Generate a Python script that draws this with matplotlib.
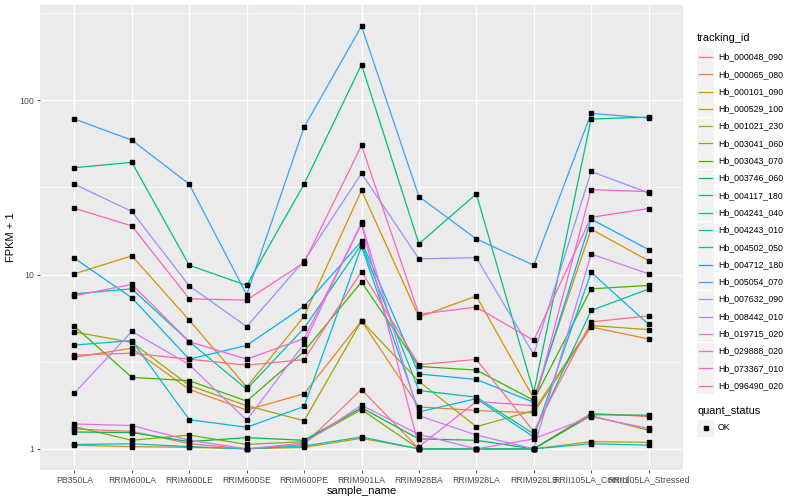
import numpy as np
import matplotlib
matplotlib.use("Agg")
import matplotlib.pyplot as plt
from matplotlib.ticker import FixedLocator, NullFormatter
from matplotlib.patches import Rectangle
from matplotlib.lines import Line2D

plt.rcParams['font.family'] = ['Liberation Sans', 'DejaVu Sans']

samples = ["PB350LA", "RRIM600LA", "RRIM600LE", "RRIM600SE", "RRIM600PE",
           "RRIM901LA", "RRIM928BA", "RRIM928LA", "RRIM928LB",
           "RRII105LA_Control", "RRII105LA_Stressed"]

tracking_ids = ["Hb_000048_090", "Hb_000065_080", "Hb_000101_090", "Hb_000529_100",
                "Hb_001021_230", "Hb_003041_060", "Hb_003043_070", "Hb_003746_060",
                "Hb_004117_180", "Hb_004241_040", "Hb_004243_010", "Hb_004502_050",
                "Hb_004712_180", "Hb_005054_070", "Hb_007632_090", "Hb_008442_010",
                "Hb_019715_020", "Hb_029888_020", "Hb_073367_010", "Hb_096490_020"]

# ggplot default hue palette for 20 groups
colors = ["#F8766D", "#EA8331", "#D89000", "#C09B00", "#A3A500", "#7CAE00", "#39B600",
          "#00BB4E", "#00BF7D", "#00C1A3", "#00BFC4", "#00BAE0", "#00B0F6", "#35A2FF",
          "#9590FF", "#C77CFF", "#E76BF3", "#FA62DB", "#FF62BC", "#FF6C91"]

# FPKM + 1 per sample, one list per gene
hb_000048_090 = [1.30, 1.26, 1.07, 1.00, 1.06, 2.19, 1.00, 1.00, 1.00, 1.60, 1.53]
hb_000065_080 = [3.35, 3.78, 2.19, 1.67, 2.07, 5.42, 1.74, 1.66, 1.61, 5.00, 4.27]
hb_000101_090 = [10.1, 12.8, 5.47, 2.26, 5.76, 30.4, 5.71, 7.52, 1.95, 18.2, 12.0]
hb_000529_100 = [1.05, 1.03, 1.02, 1.00, 1.02, 1.15, 1.00, 1.00, 1.00, 1.10, 1.09]
hb_001021_230 = [4.68, 4.08, 2.31, 1.77, 1.45, 5.42, 2.44, 1.34, 1.66, 5.10, 4.83]
hb_003041_060 = [1.34, 1.12, 1.20, 1.06, 1.10, 1.68, 1.00, 1.00, 1.00, 1.55, 1.28]
hb_003043_070 = [5.05, 2.57, 2.46, 1.88, 3.62, 9.06, 2.97, 2.83, 1.90, 8.28, 8.66]
hb_003746_060 = [1.25, 1.24, 1.10, 1.16, 1.12, 1.72, 1.14, 1.12, 1.00, 1.57, 1.56]
hb_004117_180 = [41.0, 44.0, 11.3, 8.66, 33.0, 160., 15.0, 29.0, 2.11, 78.0, 80.0]
hb_004241_040 = [7.75, 8.28, 4.12, 2.20, 4.92, 14.9, 2.16, 1.98, 1.22, 6.22, 8.25]
hb_004243_010 = [1.06, 1.07, 1.03, 1.00, 1.04, 1.17, 1.00, 1.00, 1.00, 1.07, 1.05]
hb_004502_050 = [3.94, 4.18, 1.47, 1.33, 1.75, 14.5, 1.63, 1.94, 1.17, 10.3, 5.18]
hb_004712_180 = [12.4, 7.35, 3.27, 3.92, 6.58, 15.5, 2.69, 2.50, 1.85, 20.8, 13.9]
hb_005054_070 = [78.0, 59.0, 33.0, 7.65, 70.0, 266., 28.0, 16.0, 11.3, 84.0, 79.0]
hb_007632_090 = [33.0, 23.0, 8.60, 5.03, 12.0, 38.0, 12.3, 12.5, 3.48, 39.0, 29.4]
hb_008442_010 = [2.09, 4.72, 3.04, 1.46, 4.01, 19.9, 1.55, 1.20, 1.00, 13.1, 10.1]
hb_019715_020 = [1.39, 1.36, 1.12, 1.00, 1.08, 1.78, 1.21, 1.00, 1.14, 1.53, 1.31]
hb_029888_020 = [7.55, 8.78, 4.12, 3.27, 4.29, 19.5, 1.03, 1.87, 1.77, 30.7, 29.9]
hb_073367_010 = [24.0, 19.0, 7.26, 7.13, 11.7, 55.0, 5.92, 6.50, 4.19, 21.3, 23.9]
hb_096490_020 = [3.45, 3.54, 3.27, 3.02, 3.25, 10.4, 3.04, 3.26, 1.26, 5.35, 5.79]

series = [hb_000048_090, hb_000065_080, hb_000101_090, hb_000529_100, hb_001021_230,
          hb_003041_060, hb_003043_070, hb_003746_060, hb_004117_180, hb_004241_040,
          hb_004243_010, hb_004502_050, hb_004712_180, hb_005054_070, hb_007632_090,
          hb_008442_010, hb_019715_020, hb_029888_020, hb_073367_010, hb_096490_020]

W, H = 800, 500
fig = plt.figure(figsize=(8, 5), dpi=100)
ax = fig.add_axes([40 / W, 1 - 470 / H, (683 - 40) / W, (470 - 5) / H])
ax.set_facecolor("#EBEBEB")

x = np.arange(len(samples))
for vals, c in zip(series, colors):
    ax.plot(x, vals, color=c, lw=0.9, zorder=3)
for vals in series:
    ax.plot(x, vals, ls="none", marker="s", ms=2.8, color="black", zorder=4)

ax.set_yscale("log")
allv = np.log10(np.concatenate([np.array(s) for s in series]))
lo, hi = allv.min(), allv.max()
pad = 0.05 * (hi - lo)
ax.set_ylim(10 ** (lo - pad), 10 ** (hi + pad))
ax.set_xlim(-0.6, len(samples) - 0.4)

ax.yaxis.set_major_locator(FixedLocator([1, 10, 100]))
ax.set_yticklabels(["1", "10", "100"])
ax.yaxis.set_minor_locator(FixedLocator([10 ** 0.5, 10 ** 1.5, 10 ** 2.5]))
ax.yaxis.set_minor_formatter(NullFormatter())
ax.set_xticks(x)
ax.set_xticklabels(samples)

ax.grid(True, which="major", color="white", lw=1.0, zorder=0)
ax.grid(True, which="minor", axis="y", color="white", lw=0.5, zorder=0)
ax.set_axisbelow(True)
for s in ax.spines.values():
    s.set_visible(False)
ax.tick_params(axis="both", which="major", length=2.5, width=0.6, color="#333333",
               labelsize=6.3, labelcolor="#4D4D4D", pad=1.5)
ax.tick_params(axis="y", which="minor", length=0)

ax.set_xlabel("sample_name", fontsize=8, labelpad=1)
ax.set_ylabel("FPKM + 1", fontsize=8, labelpad=3)

# legend drawn ggplot style
def fx(px):
    return px / W

def fy(py):
    return 1 - py / H

fig.text(fx(697), fy(38), "tracking_id", fontsize=7.9, va="center", ha="left")
for i, (name, c) in enumerate(zip(tracking_ids, colors)):
    yc = 57 + 17.3 * i
    fig.patches.append(Rectangle((fx(697), fy(yc + 8.5)), 17 / W, 17 / H,
                                 transform=fig.transFigure, facecolor="#F2F2F2",
                                 edgecolor="none"))
    fig.lines.append(Line2D([fx(699), fx(712)], [fy(yc), fy(yc)],
                            transform=fig.transFigure, color=c, lw=0.9))
    fig.text(fx(718), fy(yc), name, fontsize=6.3, va="center", ha="left")

fig.text(fx(697), fy(411), "quant_status", fontsize=7.9, va="center", ha="left")
fig.patches.append(Rectangle((fx(697), fy(428 + 8.5)), 17 / W, 17 / H,
                             transform=fig.transFigure, facecolor="#F2F2F2",
                             edgecolor="none"))
fig.lines.append(Line2D([fx(705.5)], [fy(428)], transform=fig.transFigure,
                        ls="none", marker="s", ms=2.8, color="black"))
fig.text(fx(718), fy(428), "OK", fontsize=6.3, va="center", ha="left")

fig.savefig("out.png", dpi=100)
